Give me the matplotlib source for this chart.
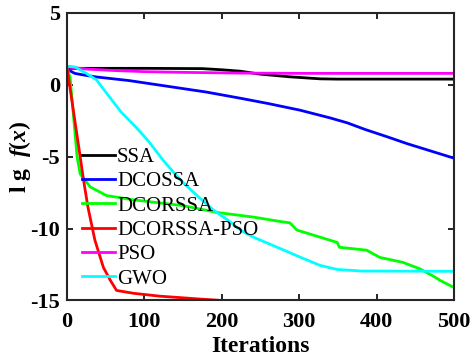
import matplotlib.pyplot as plt

plt.rcParams['font.family'] = 'Liberation Serif'
plt.rcParams['mathtext.fontset'] = 'custom'
plt.rcParams['mathtext.it'] = 'Liberation Serif:italic:bold'
plt.rcParams['mathtext.rm'] = 'Liberation Serif:bold'
plt.rcParams['axes.unicode_minus'] = False

# curves (iteration, lg f(x))
ssa_x = [0, 5, 100, 175, 200, 224, 249, 288, 327, 350, 500]
ssa_y = [1.25, 1.15, 1.15, 1.13, 1.05, 0.95, 0.75, 0.56, 0.42, 0.4, 0.4]

dcossa_x = [0, 3, 10, 20, 38, 80, 130, 180, 224, 260, 301, 340, 362, 385, 413, 440, 470, 500]
dcossa_y = [1.2, 1.0, 0.8, 0.7, 0.55, 0.3, -0.1, -0.5, -0.93, -1.3, -1.76, -2.3, -2.64, -3.1, -3.6, -4.1, -4.6, -5.1]

dcorssa_x = [0, 4, 13, 17, 30, 51, 86, 150, 193, 241, 275, 288, 297, 349, 352, 387, 404, 434, 456, 473, 482, 500]
dcorssa_y = [1.2, 0.5, -5.0, -6.2, -7.1, -7.7, -8.0, -8.4, -8.87, -9.2, -9.5, -9.6, -10.1, -10.96, -11.3, -11.5, -12.0, -12.35, -12.8, -13.3, -13.6, -14.1]

pso_hyb_x = [0, 17, 21, 27, 36, 47, 56, 64, 86, 120, 172, 200, 500]
pso_hyb_y = [1.2, -5.0, -6.5, -8.5, -10.8, -12.7, -13.6, -14.3, -14.5, -14.7, -14.9, -15.0, -15.0]

pso_x = [0, 25, 60, 100, 150, 224, 300, 500]
pso_y = [1.25, 1.1, 1.0, 0.92, 0.87, 0.82, 0.8, 0.8]

gwo_x = [0, 10, 25, 38, 50, 70, 90, 105, 125, 146, 170, 189, 210, 224, 241, 266, 301, 327, 349, 380, 500]
gwo_y = [1.3, 1.25, 0.8, 0.35, -0.5, -1.9, -3.0, -3.9, -5.3, -6.6, -7.8, -8.7, -9.5, -10.1, -10.6, -11.17, -11.98, -12.56, -12.84, -12.95, -12.97]

fig = plt.figure(figsize=(4.76, 3.6), dpi=100)
ax = fig.add_axes([0.1408, 0.1653, 0.8130, 0.7986])

lw = 2.0
ax.plot(ssa_x, ssa_y, color='black', lw=lw, label='SSA')
ax.plot(dcossa_x, dcossa_y, color='blue', lw=lw, label='DCOSSA')
ax.plot(dcorssa_x, dcorssa_y, color='#00ff00', lw=lw, label='DCORSSA')
ax.plot(pso_hyb_x, pso_hyb_y, color='red', lw=lw, label='DCORSSA-PSO')
ax.plot(pso_x, pso_y, color='magenta', lw=lw, label='PSO')
ax.plot(gwo_x, gwo_y, color='cyan', lw=lw, label='GWO')

ax.set_xlim(0, 500)
ax.set_ylim(-15, 5)
ax.set_xticks(range(0, 501, 100))
ax.set_yticks([-15, -10, -5, 0, 5])
ax.tick_params(direction='in', top=True, right=True, length=4, width=1.2,
               labelsize=16)
ax.tick_params(axis='x', pad=8)
ax.tick_params(axis='y', pad=5)
for lab in ax.get_xticklabels() + ax.get_yticklabels():
    lab.set_fontweight('bold')
for sp in ax.spines.values():
    sp.set_linewidth(1.5)
    sp.set_color('#262626')

ax.set_xlabel('Iterations', fontsize=17, fontweight='bold', labelpad=3)
ax.set_ylabel(r'l g  $f(x)$', fontsize=17, fontweight='bold', labelpad=-2)

ax.legend(loc='lower left', bbox_to_anchor=(0.0, -0.01), frameon=False, fontsize=15,
          handlelength=1.6, handletextpad=0.1, labelspacing=0.23, borderpad=0.2)

fig.savefig('out.png', dpi=100)
